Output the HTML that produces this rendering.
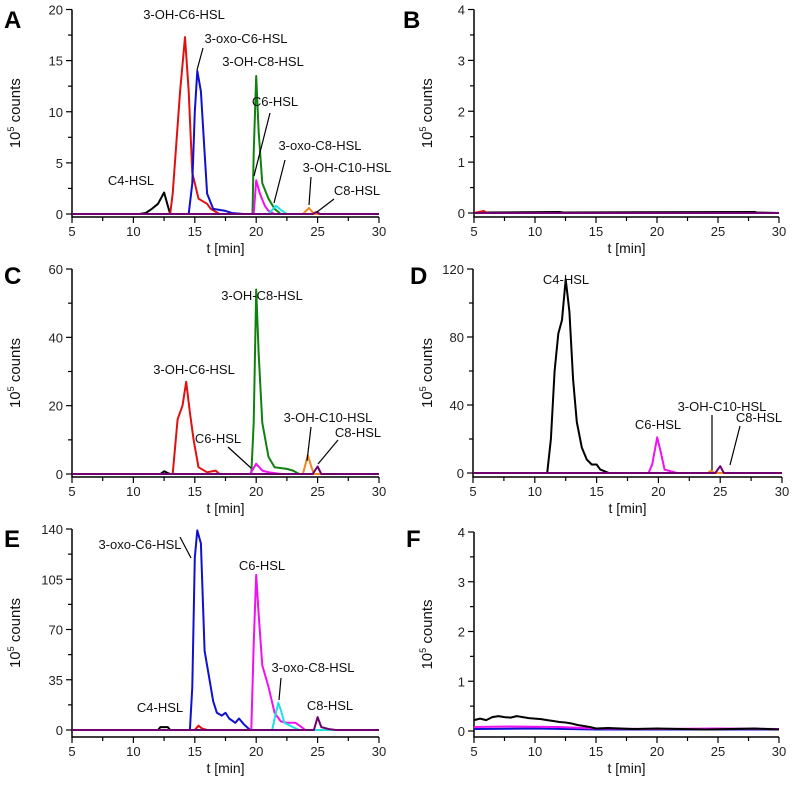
<!DOCTYPE html>
<html><head><meta charset="utf-8"><style>
body{margin:0;background:#fff;}
svg{display:block;font-family:"Liberation Sans",Arial,sans-serif;}
</style></head><body>
<svg id="fig" width="792" height="788" viewBox="0 0 792 788" xmlns="http://www.w3.org/2000/svg"></svg>
<script>
// ---- data (time in min, intensity in 10^5 counts) ----
const xTicks = [5,10,15,20,25,30];
const yTicksA = [0,5,10,15,20];
const yTicksB = [0,1,2,3,4];
const yTicksC = [0,20,40,60];
const yTicksD = [0,40,80,120];
const yTicksE = [0,35,70,105,140];
const yTicksF = [0,1,2,3,4];

// Panel A
const A_black_t=[5,10.5,11,11.5,12,12.5,12.8,13,30];
const A_black_y=[0,0,0.1,0.5,1.0,2.1,0.8,0,0];
const A_red_t=[5,13,13.2,13.5,13.8,14.2,14.5,14.8,15,15.3,16,16.3,17,30];
const A_red_y=[0,0,2,7,12,17.3,12,4,3,1.5,1,0.5,0,0];
const A_blue_t=[5,14.5,14.8,15,15.2,15.5,15.8,16,16.5,17.5,18,19,30];
const A_blue_y=[0,0,3,10,14,12,6,2,0.5,0.3,0.1,0,0];
const A_green_t=[5,19.7,19.8,20,20.2,20.5,21,21.5,22,30];
const A_green_y=[0,0,6,13.5,8,3,1.5,0.5,0,0];
const A_mag_t=[5,19.8,20,20.3,20.7,21,21.5,30];
const A_mag_y=[0,0,3.3,2,0.8,0.3,0,0];
const A_cyan_t=[5,21,21.6,22,22.5,30];
const A_cyan_y=[0,0,0.8,0.4,0,0];
const A_orange_t=[5,23.8,24.3,24.7,30];
const A_orange_y=[0,0,0.6,0,0];
const A_purple_t=[5,24.6,24.9,25.2,30];
const A_purple_y=[0,0,0.2,0,0];

// Panel B
const B_black_t=[5,5.7,6,12,12.3,28,28.2,30];
const B_black_y=[0,0.02,0.01,0.02,0.01,0.02,0.01,0];
const B_red_t=[5,5.6,5.8,6.1,30];
const B_red_y=[0,0.03,0.04,0,0];
const B_purple_t=[5,30];
const B_purple_y=[0,0];

// Panel C
const C_black_t=[5,12.2,12.5,12.8,13,30];
const C_black_y=[0,0,0.8,0.3,0,0];
const C_red_t=[5,13.2,13.6,14,14.3,14.6,14.9,15.3,16,16.7,17,30];
const C_red_y=[0,0,16,20,27,18,10,2,0.5,1,0,0];
const C_green_t=[5,19.6,19.8,20,20.2,20.5,21,21.5,22.5,23,23.5,30];
const C_green_y=[0,0,15,54,35,15,5,2,1.5,1,0,0];
const C_mag_t=[5,19.5,20,20.5,21,22,30];
const C_mag_y=[0,0,3,1,0.5,0,0];
const C_orange_t=[5,23.8,24.2,24.5,24.7,30];
const C_orange_y=[0,0,5.5,2,0,0];
const C_purple_t=[5,24.6,25,25.3,30];
const C_purple_y=[0,0,2.2,0,0];

// Panel D
const D_black_t=[5,11,11.3,11.6,11.9,12.2,12.5,12.8,13.1,13.4,13.8,14.2,14.6,15,15.3,16,30];
const D_black_y=[0,0,20,60,82,90,114,95,55,30,15,8,5,5,2,0,0];
const D_mag_t=[5,19.2,19.5,19.9,20.2,20.5,21,21.5,30];
const D_mag_y=[0,0,5,21,12,2,1,0,0];
const D_orange_t=[5,24,24.3,24.5,30];
const D_orange_y=[0,0,1.5,0,0];
const D_purple_t=[5,24.6,25,25.3,30];
const D_purple_y=[0,0,4,0,0];

// Panel E
const E_black_t=[5,12,12.2,12.8,13,30];
const E_black_y=[0,0,2,2,0,0];
const E_red_t=[5,15,15.3,15.6,16,30];
const E_red_y=[0,0,3,1,0,0];
const E_blue_t=[5,14.6,14.8,15,15.2,15.5,15.8,16,16.5,16.8,17.2,17.5,17.8,18.3,18.6,19,19.5,30];
const E_blue_y=[0,0,30,120,139,130,55,45,20,12,10,12,8,5,8,4,0,0];
const E_mag_t=[5,19.6,19.8,20,20.2,20.5,21,21.5,22,22.5,23.2,23.7,24,30];
const E_mag_y=[0,0,60,108,80,45,30,12,6,5,5,2,0,0];
const E_cyan_t=[5,21.3,21.5,21.8,22,22.3,23,23.5,30];
const E_cyan_y=[0,0,8,19,14,5,2,0,0];
const E_purple_t=[5,24.7,25,25.3,26,26.5,30];
const E_purple_y=[0,0,9,2,0.5,0,0];

// Panel F
const F_black_t=[5,5.5,6,6.5,7,7.5,8,8.5,9,9.5,10,10.5,11,11.5,12,12.5,13,13.5,14,14.5,15,16,18,20,22,24,26,28,30];
const F_black_y=[0.22,0.25,0.22,0.28,0.3,0.28,0.27,0.3,0.28,0.26,0.25,0.24,0.22,0.2,0.18,0.17,0.15,0.12,0.1,0.08,0.05,0.06,0.04,0.05,0.04,0.03,0.04,0.05,0.03];
const F_mag_t=[5,8,12,15,20,25,30];
const F_mag_y=[0.08,0.09,0.08,0.05,0.04,0.05,0.04];
const F_blue_t=[5,10,15,20,30];
const F_blue_y=[0.04,0.05,0.03,0.03,0.03];

const COL={black:'#000',red:'#e01010',blue:'#1010d0',green:'#108010',mag:'#f010f0',cyan:'#20e0e0',orange:'#f08820',purple:'#700070'};

const svg=document.getElementById('fig');
const NS='http://www.w3.org/2000/svg';
function mk(tag,attrs,parent){const e=document.createElementNS(NS,tag);for(const k in attrs)e.setAttribute(k,attrs[k]);(parent||svg).appendChild(e);return e;}

function panel(id,g,yTicks,series,labels,leaders){
  const grp=mk('g',{});
  
  
  const ymax=yTicks[yTicks.length-1];
  const X=t=>g.x0+(t-5)/25*(g.x1-g.x0);
  const Y=v=>g.y0-(v/ymax)*(g.y0-g.yt);
  // axes
  const ax=mk('path',{d:`M${g.x0},${g.yt}V${g.ay}H${g.x1}`,stroke:'#000','stroke-width':1.5,fill:'none'},grp);
  
  
  // x ticks
  for(let t=5;t<=30;t+=2.5){const maj=(t%5===0);mk('line',{x1:X(t),x2:X(t),y1:g.ay,y2:g.ay+(maj?6:4),stroke:'#000','stroke-width':1.2},grp);}
  xTicks.forEach(t=>{const tx=mk('text',{x:X(t),y:g.ay+19,'text-anchor':'middle','font-size':13,fill:'#222'},grp);tx.textContent=t;
    
    });
  // y ticks
  for(let i=0;i<yTicks.length;i++){
    const v=yTicks[i];mk('line',{x1:g.x0-6,x2:g.x0,y1:Y(v),y2:Y(v),stroke:'#000','stroke-width':1.2},grp);
    if(i<yTicks.length-1){const m=(v+yTicks[i+1])/2;mk('line',{x1:g.x0-4,x2:g.x0,y1:Y(m),y2:Y(m),stroke:'#000','stroke-width':1.2},grp);}
    const tx=mk('text',{x:g.x0-9,y:Y(v)+5,'text-anchor':'end','font-size':13,fill:'#222'},grp);tx.textContent=v;
    
    
  }
  const xt=mk('text',{x:(g.x0+g.x1)/2,y:g.ay+36,'text-anchor':'middle','font-size':14,fill:'#111'},grp);xt.textContent='t [min]';
  
  
  const cy=(g.yt+g.ay)/2;
  const yt=mk('text',{x:0,y:0,'text-anchor':'middle','font-size':15,fill:'#111',transform:`translate(${g.yx},${cy}) rotate(-90)`},grp);
  yt.innerHTML='10<tspan dy="-6" font-size="9">5</tspan><tspan dy="6"> counts</tspan>';
  
  
  const L=mk('text',{x:g.lx,y:g.ly,'font-size':24,'font-weight':'bold',fill:'#000'},grp);L.textContent=id;
  
  
  series.forEach(s=>{
    const pts=s.t.map((t,i)=>X(t).toFixed(1)+','+Y(s.y[i]).toFixed(1)).join(' ');
    const p=mk('polyline',{points:pts,fill:'none',stroke:COL[s.c],'stroke-width':2,'stroke-linejoin':'round'},grp);
    
    
  });
  (leaders||[]).forEach(l=>{mk('line',{x1:l[0],y1:l[1],x2:l[2],y2:l[3],stroke:'#000','stroke-width':1.2},grp);});
  (labels||[]).forEach(l=>{const tx=mk('text',{x:l[1],y:l[2],'text-anchor':'middle','font-size':13,fill:'#111'},grp);tx.textContent=l[0];
    
    });
}
const S=(c,t,y)=>({c,t,y});

panel('A',{x0:72,x1:379,y0:214,yt:9.5,ay:217,yx:20,lx:4,ly:28},yTicksA,[
 S('black',A_black_t,A_black_y),S('red',A_red_t,A_red_y),S('blue',A_blue_t,A_blue_y),S('green',A_green_t,A_green_y),
 S('mag',A_mag_t,A_mag_y),S('cyan',A_cyan_t,A_cyan_y),S('orange',A_orange_t,A_orange_y),S('purple',A_purple_t,A_purple_y)],
 [['3-OH-C6-HSL',184,19],['3-oxo-C6-HSL',246,43],['3-OH-C8-HSL',263,66],['C6-HSL',275,106],['3-oxo-C8-HSL',320,150],['3-OH-C10-HSL',347,172],['C8-HSL',357,195],['C4-HSL',131,185]],
 [[203,48,197,70],[270,113,254,176],[285,160,274,203],[311,177,309,205],[334,199,317,212]]);

panel('B',{x0:474,x1:779,y0:213,yt:9.5,ay:217,yx:432,lx:403,ly:28},yTicksB,[
 S('black',B_black_t,B_black_y),S('red',B_red_t,B_red_y),S('purple',B_purple_t,B_purple_y)]);

panel('C',{x0:72,x1:379,y0:474,yt:269,ay:477,yx:20,lx:4,ly:284},yTicksC,[
 S('black',C_black_t,C_black_y),S('red',C_red_t,C_red_y),S('green',C_green_t,C_green_y),S('mag',C_mag_t,C_mag_y),
 S('orange',C_orange_t,C_orange_y),S('purple',C_purple_t,C_purple_y)],
 [['3-OH-C8-HSL',262,300],['3-OH-C6-HSL',194,374],['C6-HSL',218,443],['3-OH-C10-HSL',328,422],['C8-HSL',358,437]],
 [[228,447,251,468],[311,427,307,461],[338,440,318,464]]);

panel('D',{x0:473,x1:782,y0:473,yt:269,ay:477,yx:432,lx:410,ly:284},yTicksD,[
 S('black',D_black_t,D_black_y),S('mag',D_mag_t,D_mag_y),S('orange',D_orange_t,D_orange_y),S('purple',D_purple_t,D_purple_y)],
 [['C4-HSL',566,284],['C6-HSL',658,429],['3-OH-C10-HSL',722,411],['C8-HSL',759,422]],
 [[712,415,712,470],[740,426,730,465]]);

panel('E',{x0:72,x1:379,y0:730,yt:529,ay:737,yx:20,lx:4,ly:547},yTicksE,[
 S('black',E_black_t,E_black_y),S('red',E_red_t,E_red_y),S('blue',E_blue_t,E_blue_y),S('mag',E_mag_t,E_mag_y),
 S('cyan',E_cyan_t,E_cyan_y),S('purple',E_purple_t,E_purple_y)],
 [['3-oxo-C6-HSL',140,549],['C6-HSL',262,570],['3-oxo-C8-HSL',313,672],['C8-HSL',330,710],['C4-HSL',160,712]],
 [[180,537,191,558],[281,678,279,700]]);

panel('F',{x0:474,x1:779,y0:731,yt:532,ay:737,yx:432,lx:406,ly:547},yTicksF,[
 S('blue',F_blue_t,F_blue_y),S('mag',F_mag_t,F_mag_y),S('black',F_black_t,F_black_y)]);
</script>
</body></html>
